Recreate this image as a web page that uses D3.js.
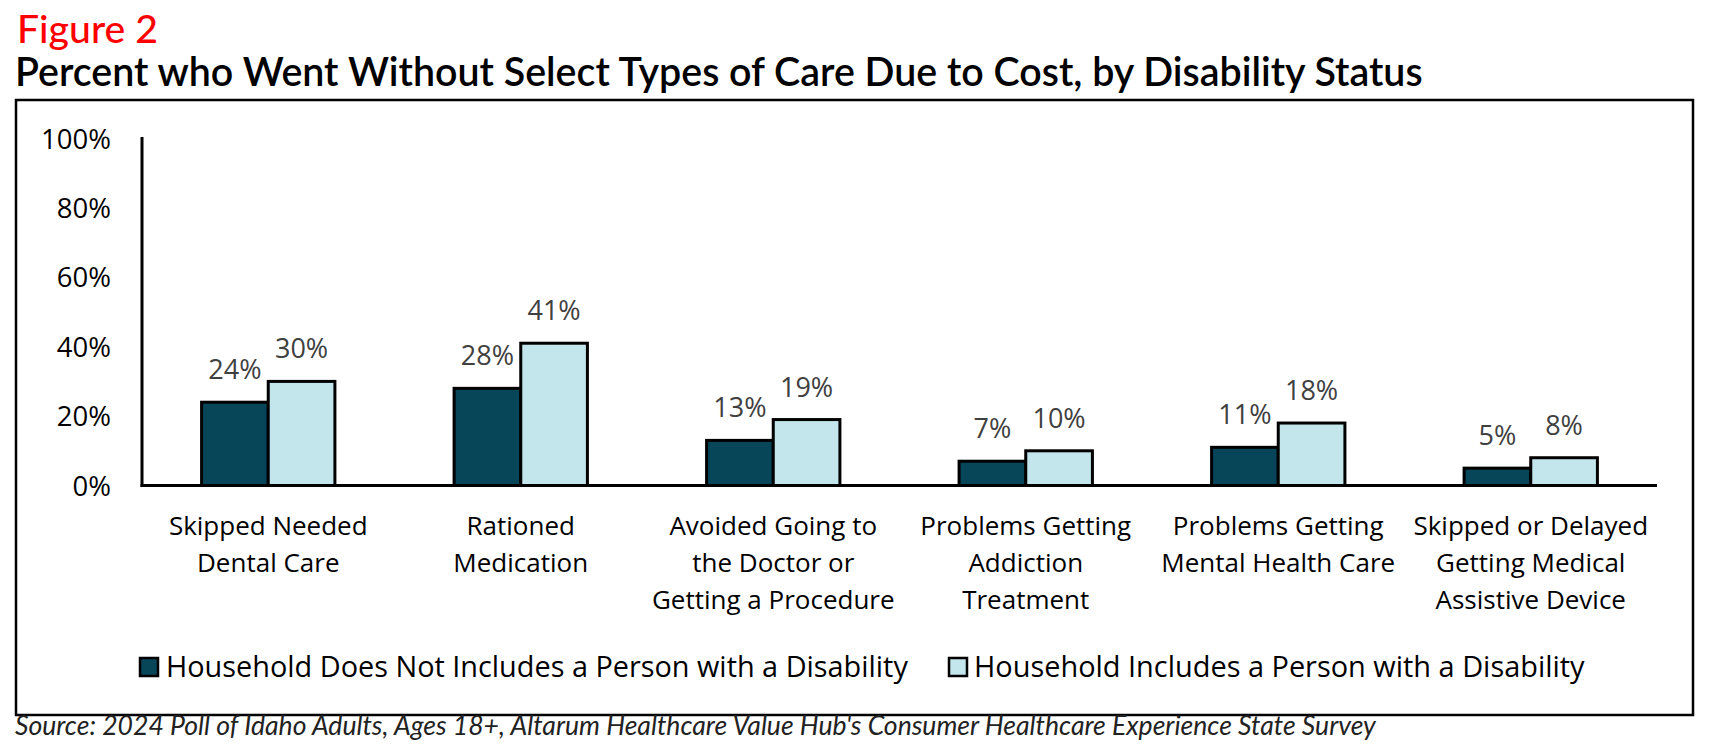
<!DOCTYPE html>
<html>
<head>
<meta charset="utf-8">
<script src="https://cdn.jsdelivr.net/npm/d3@7"></script>
<style>
  html, body { margin: 0; padding: 0; background: #fff; }
  svg { display: block; }
</style>
</head>
<body>
<svg id="chart" width="1710" height="754"></svg>
<script>
// ---- Data ----
const categories = [
  "Skipped Needed Dental Care",
  "Rationed Medication",
  "Avoided Going to the Doctor or Getting a Procedure",
  "Problems Getting Addiction Treatment",
  "Problems Getting Mental Health Care",
  "Skipped or Delayed Getting Medical Assistive Device"
];
const categoryLines = [
  ["Skipped Needed", "Dental Care"],
  ["Rationed", "Medication"],
  ["Avoided Going to", "the Doctor or", "Getting a Procedure"],
  ["Problems Getting", "Addiction", "Treatment"],
  ["Problems Getting", "Mental Health Care"],
  ["Skipped or Delayed", "Getting Medical", "Assistive Device"]
];
const seriesNames = [
  "Household Does Not Includes a Person with a Disability",
  "Household Includes a Person with a Disability"
];
const noDisability = [0.24, 0.28, 0.13, 0.07, 0.11, 0.05];
const withDisability = [0.30, 0.41, 0.19, 0.10, 0.18, 0.08];
const yTicks = [0, 0.2, 0.4, 0.6, 0.8, 1.0];
const figureLabel = "Figure 2";
const titleText = "Percent who Went Without Select Types of Care Due to Cost, by Disability Status";
const sourceText = "Source: 2024 Poll of Idaho Adults, Ages 18+, Altarum Healthcare Value Hub's Consumer Healthcare Experience State Survey";

const colors = ["#074659", "#c2e6ec"];
const seriesValues = [noDisability, withDisability];

const svg = d3.select("#chart");

function fitWidth(sel, target) {
  const node = sel.node();
  const fs = parseFloat(sel.attr("font-size"));
  const w = node.getComputedTextLength();
  if (w > 0) sel.attr("font-size", (fs * target / w).toFixed(2));
}

// ---- Titles ----
const fig = svg.append("text")
  .attr("x", 17).attr("y", 43)
  .attr("font-family", "Lato, 'Open Sans', sans-serif")
  .attr("font-size", 35)
  .attr("font-weight", 500)
  .attr("fill", "#ff0000")
  .text(figureLabel);
fitWidth(fig, 141);

const title = svg.append("text")
  .attr("x", 15).attr("y", 86)
  .attr("font-family", "Lato, 'Open Sans', sans-serif")
  .attr("font-size", 35)
  .attr("font-weight", 600)
  .attr("fill", "#000")
  .text(titleText);
fitWidth(title, 1408);

// ---- Border ----
svg.append("rect")
  .attr("x", 16).attr("y", 100)
  .attr("width", 1677).attr("height", 615)
  .attr("fill", "none").attr("stroke", "#000").attr("stroke-width", 2.5);

// ---- Scales ----
const left = 142, right = 1657, baseY = 485.5, topY = 138.5;
const x0 = d3.scaleBand().domain(categories).range([left, right])
  .paddingInner(0.472).paddingOuter(0.236);
const x1 = d3.scaleBand().domain([0, 1]).range([0, x0.bandwidth()]);
const y = d3.scaleLinear().domain([0, 1]).range([baseY, topY]);

// ---- Y axis labels ----
const yAxis = d3.axisLeft(y).tickValues(yTicks).tickSize(0).tickPadding(0)
  .tickFormat(d3.format(".0%"));
const yg = svg.append("g").attr("transform", `translate(111,0)`).call(yAxis);
yg.select(".domain").remove();
yg.selectAll("text")
  .attr("font-family", "'Open Sans', sans-serif")
  .attr("font-size", 27.5)
  .attr("fill", "#000")
  .attr("dy", "0.35em");

// ---- Bars ----
const groups = svg.append("g").selectAll("g")
  .data(categories)
  .join("g")
  .attr("transform", d => `translate(${x0(d)},0)`);

groups.selectAll("rect")
  .data((d, i) => seriesValues.map((vals, s) => ({ s, v: vals[i] })))
  .join("rect")
  .attr("x", d => x1(d.s))
  .attr("y", d => y(d.v))
  .attr("width", x1.bandwidth())
  .attr("height", d => baseY - y(d.v))
  .attr("fill", d => colors[d.s])
  .attr("stroke", "#000")
  .attr("stroke-width", 3);

groups.selectAll("text.val")
  .data((d, i) => seriesValues.map((vals, s) => ({ s, v: vals[i] })))
  .join("text")
  .attr("class", "val")
  .attr("x", d => x1(d.s) + x1.bandwidth() / 2)
  .attr("y", d => y(d.v) - 23)
  .attr("text-anchor", "middle")
  .attr("font-family", "'Open Sans', sans-serif")
  .attr("font-size", 27)
  .attr("fill", "#404040")
  .text(d => d3.format(".0%")(d.v));

// ---- Axes lines ----
svg.append("line")
  .attr("x1", left).attr("x2", left)
  .attr("y1", y(1) - 1.5).attr("y2", baseY + 1.5)
  .attr("stroke", "#000").attr("stroke-width", 3);
svg.append("line")
  .attr("x1", left - 1.5).attr("x2", right)
  .attr("y1", baseY).attr("y2", baseY)
  .attr("stroke", "#000").attr("stroke-width", 3);

// ---- Category labels ----
const catG = svg.append("g").selectAll("text")
  .data(categories)
  .join("text")
  .attr("text-anchor", "middle")
  .attr("font-family", "'Open Sans', sans-serif")
  .attr("font-size", 26)
  .attr("fill", "#000");
catG.each(function(d, i) {
  const t = d3.select(this);
  categoryLines[i].forEach((line, j) => {
    t.append("tspan")
      .attr("x", x0(d) + x0.bandwidth() / 2)
      .attr("y", 535 + j * 37)
      .text(line);
  });
});

// ---- Legend ----
const legendItems = [
  { sq: 140, tx: 166, tw: 742 },
  { sq: 949, tx: 974, tw: 611 }
];
seriesNames.forEach((name, s) => {
  const li = legendItems[s];
  svg.append("rect")
    .attr("x", li.sq).attr("y", 658)
    .attr("width", 18).attr("height", 18)
    .attr("fill", colors[s])
    .attr("stroke", "#000").attr("stroke-width", 2.5);
  const t = svg.append("text")
    .attr("x", li.tx).attr("y", 677)
    .attr("font-family", "'Open Sans', sans-serif")
    .attr("font-size", 27)
    .attr("fill", "#000")
    .text(name);
  fitWidth(t, li.tw);
});

// ---- Source ----
const src = svg.append("text")
  .attr("x", 15).attr("y", 735)
  .attr("font-family", "Lato, 'Open Sans', sans-serif")
  .attr("font-size", 22)
  .attr("font-style", "italic")
  .attr("fill", "#222")
  .text(sourceText);
fitWidth(src, 1361);
</script>
</body>
</html>
